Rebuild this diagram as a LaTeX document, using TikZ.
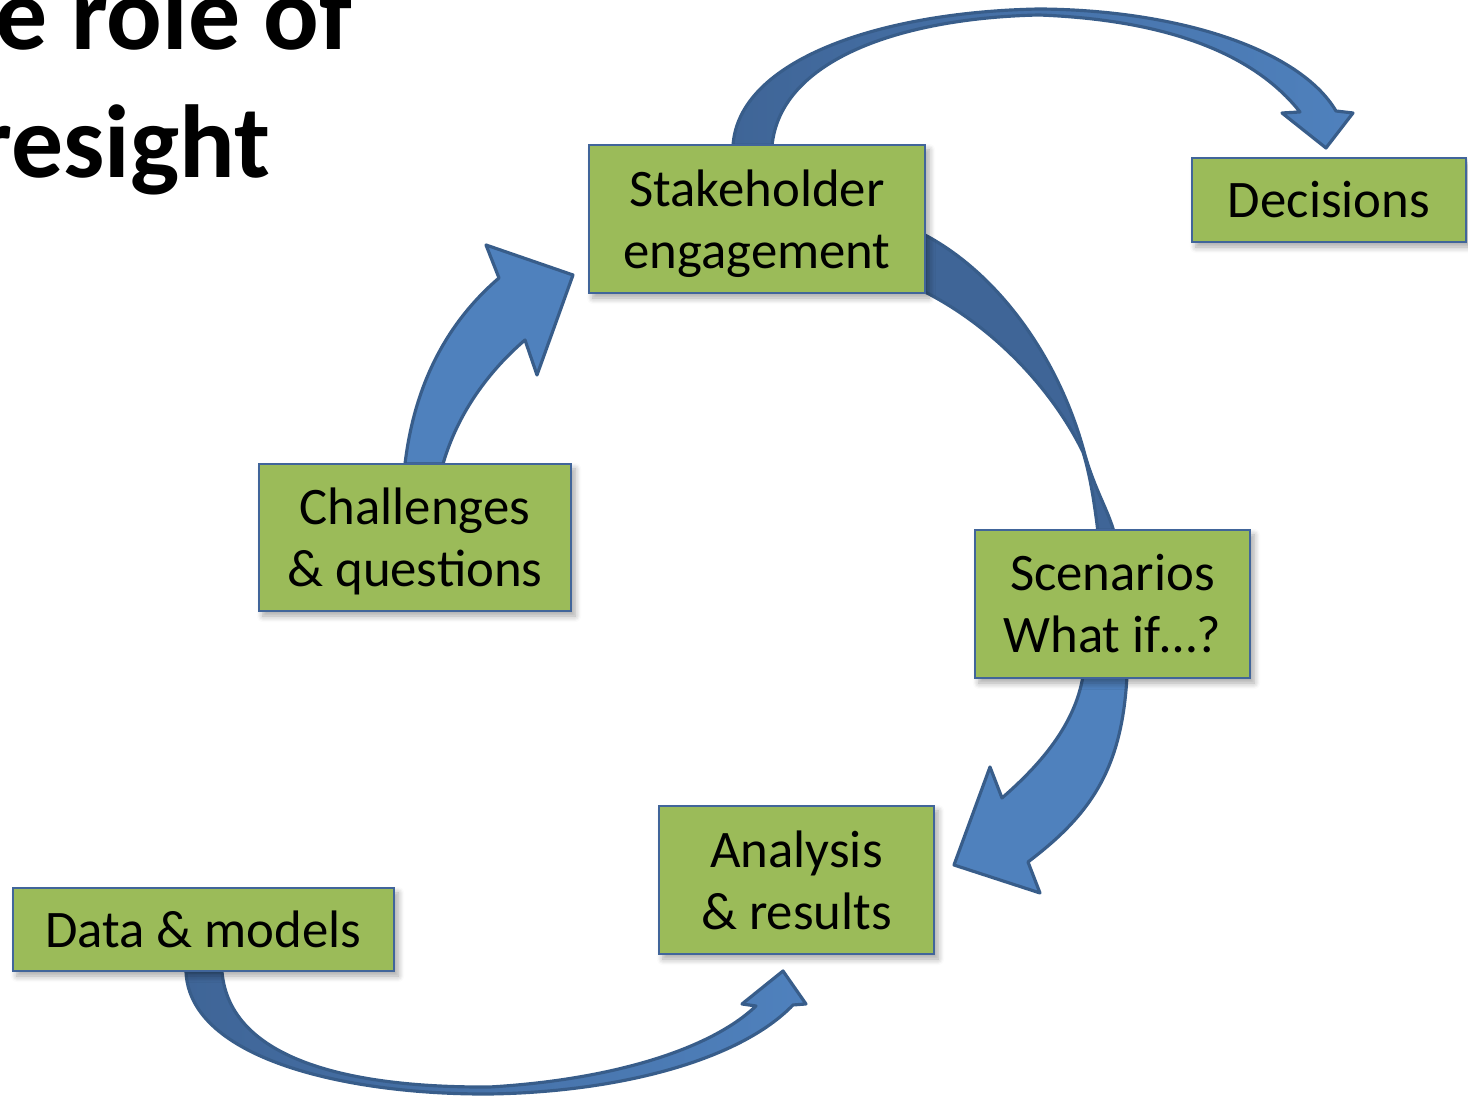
\documentclass[tikz,border=0pt]{standalone}
\usepackage{fontspec}
\setmainfont{Carlito}
\usetikzlibrary{shadows.blur,backgrounds}
\definecolor{boxgreen}{HTML}{9BBB59}
\definecolor{boxline}{HTML}{41659A}
\definecolor{arrowfill}{HTML}{4F81BD}
\definecolor{arrowdark}{HTML}{3F6597}
\definecolor{arrowline}{HTML}{385D8A}
\begin{document}
\begin{tikzpicture}[x=0.01cm,y=-0.01cm,
  stepbox/.style={draw=boxline, line width=0.6pt, fill=boxgreen, align=center, inner sep=0pt,
    font=\fontsize{15}{17.6}\selectfont,
    blur shadow={shadow xshift=0.04cm, shadow yshift=-0.05cm, shadow blur steps=6, shadow blur radius=0.06cm, shadow opacity=35}},
  flow/.style={draw=arrowline, line width=0.9pt, line join=round, fill=arrowfill},
  titletext/.style={anchor=base west, inner sep=0pt, font=\fontsize{29.5}{37}\selectfont\bfseries}]
\useasboundingbox (0,0) rectangle (1468,1098);
\clip (0,0) rectangle (1468,1098);
\node[titletext] (title1) at (-5,50) {e role of};
\node[titletext] (title2) at (-25,178) {resight};
\node[stepbox, minimum width=3.36cm, minimum height=1.48cm, text depth=0pt] (stake) at (757,219) {Stakeholder\\engagement};
\node[stepbox, minimum width=2.74cm, minimum height=0.84cm] (dec) at (1329,200) {Decisions};
\node[stepbox, minimum width=3.12cm, minimum height=1.47cm, text depth=0pt] (chal) at (415,537.5) {Challenges\\\& questions};
\node[stepbox, minimum width=2.75cm, minimum height=1.48cm] (scen) at (1112.5,604) {Scenarios\\What if\ldots?};
\node[stepbox, minimum width=2.75cm, minimum height=1.48cm] (anal) at (796.5,880) {Analysis\\\& results};
\node[stepbox, minimum width=3.81cm, minimum height=0.83cm] (data) at (203.5,929.5) {Data \& models};
\begin{pgfonlayer}{background}
\draw[flow] (405,464) .. controls (415,380) and (450,320) .. (499,278) -- (486,245) -- (573,275)
  -- (537,375) -- (525,340) .. controls (490,370) and (458,412) .. (443,464) -- cycle;
\draw[flow, left color=arrowdark, right color=arrowfill] (733,146) .. controls (738,60) and (880,12) .. (1039,9)
  .. controls (1180,10) and (1300,50) .. (1336,111) -- (1353,113) -- (1326,148) -- (1282,113) -- (1300,112)
  .. controls (1255,55) and (1170,20) .. (1039,15) .. controls (900,18) and (780,60) .. (772,146) -- cycle;
\draw[flow, fill=arrowdark] (925,235) .. controls (1000,275) and (1060,360) .. (1085,455)
  .. controls (1095,490) and (1108,510) .. (1114,532) -- (1098,532) .. controls (1094,500) and (1090,475) .. (1083,452)
  .. controls (1050,385) and (990,325) .. (925,292) -- cycle;
\draw[flow] (1127,676) .. controls (1122,770) and (1090,815) .. (1028,862) -- (1040,893) -- (954,865)
  -- (990,767) -- (1002,798) .. controls (1040,765) and (1075,725) .. (1083,676) -- cycle;
\draw[flow, left color=arrowdark, right color=arrowfill] (186,972) .. controls (190,1060) and (350,1095) .. (490,1094)
  .. controls (620,1092) and (740,1060) .. (793,1005) -- (806,1004) -- (783,971) -- (742,1004) -- (756,1006)
  .. controls (710,1050) and (610,1080) .. (490,1087) .. controls (350,1088) and (230,1060) .. (222,972) -- cycle;
\end{pgfonlayer}
\end{tikzpicture}
\end{document}
